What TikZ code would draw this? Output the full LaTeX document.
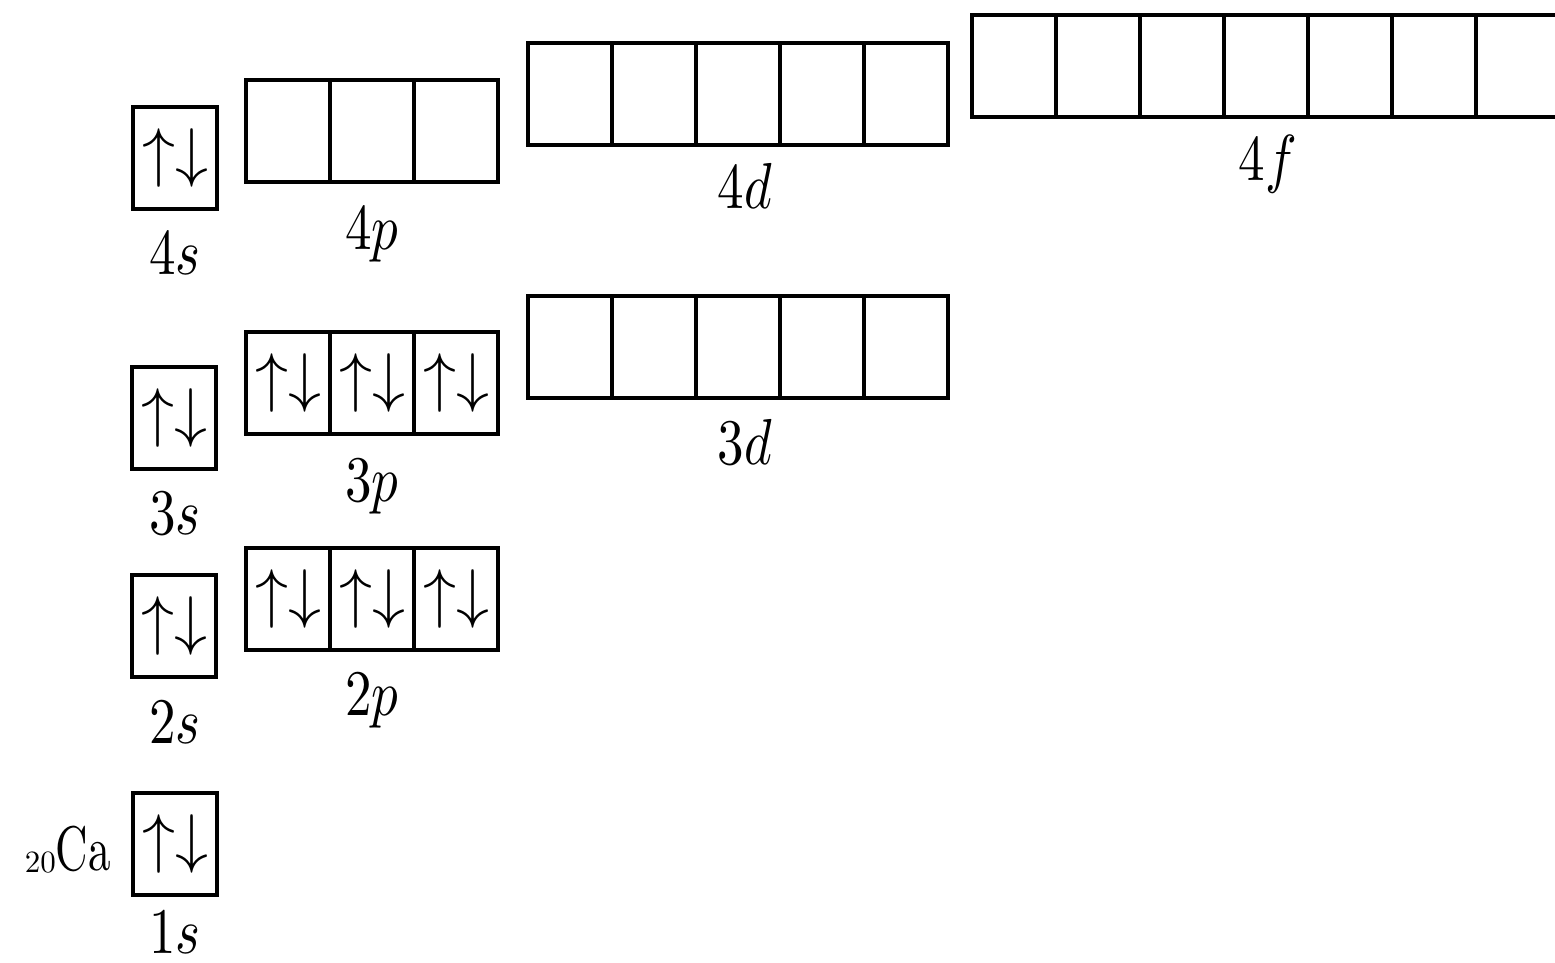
\documentclass[tikz,border=0pt]{standalone}
\usepackage{graphicx}
\newcommand{\spinpair}{\scalebox{6.6}{$\uparrow\downarrow$}}
\newcommand{\orblbl}[1]{\scalebox{5.3}[6.5]{$#1$}}
\begin{document}
\begin{tikzpicture}[x=1pt,y=-1pt,
  orb/.style={draw, line width=3.5pt, minimum width=84pt, minimum height=102pt,
              inner sep=0pt, outer sep=0pt, anchor=north west},
  lbl/.style={anchor=base, inner sep=0pt}]
\useasboundingbox (0,0) rectangle (1555,962);
\clip (0,0) rectangle (1555,962);
% n = 4
\node[orb] (s4) at (133,107) {\spinpair};
\foreach \i/\n in {0/a,1/b,2/c} \node[orb] (p4\n) at (246+84*\i,80) {};
\foreach \i/\n in {0/a,1/b,2/c,3/d,4/e} \node[orb] (d4\n) at (528+84*\i,43) {};
\foreach \i/\n in {0/a,1/b,2/c,3/d,4/e,5/f,6/g} \node[orb] (f4\n) at (972+84*\i,15) {};
% n = 3
\node[orb] (s3) at (132,367) {\spinpair};
\foreach \i/\n in {0/a,1/b,2/c} \node[orb] (p3\n) at (246+84*\i,332) {\spinpair};
\foreach \i/\n in {0/a,1/b,2/c,3/d,4/e} \node[orb] (d3\n) at (528+84*\i,296) {};
% n = 2
\node[orb] (s2) at (132,575) {\spinpair};
\foreach \i/\n in {0/a,1/b,2/c} \node[orb] (p2\n) at (246+84*\i,548) {\spinpair};
% n = 1
\node[orb] (s1) at (133,793) {\spinpair};
% labels
\node[lbl] (l4s) at (175,274) {\orblbl{4s}};
\node[lbl] (l4p) at (372,249) {\orblbl{4p}};
\node[lbl] (l4d) at (745,208) {\orblbl{4d}};
\node[lbl] (l4f) at (1268,180) {\orblbl{4f}};
\node[lbl] (l3s) at (175,534) {\orblbl{3s}};
\node[lbl] (l3p) at (372,501) {\orblbl{3p}};
\node[lbl] (l3d) at (745,464) {\orblbl{3d}};
\node[lbl] (l2s) at (175,743) {\orblbl{2s}};
\node[lbl] (l2p) at (372,715) {\orblbl{2p}};
\node[lbl] (l1s) at (175,953) {\orblbl{1s}};
\node[anchor=base east, inner sep=0pt] (ca) at (111,870)
  {\raisebox{-2pt}{\scalebox{3.1}{20}}\scalebox{4.5}[6.3]{Ca}};
\end{tikzpicture}
\end{document}
